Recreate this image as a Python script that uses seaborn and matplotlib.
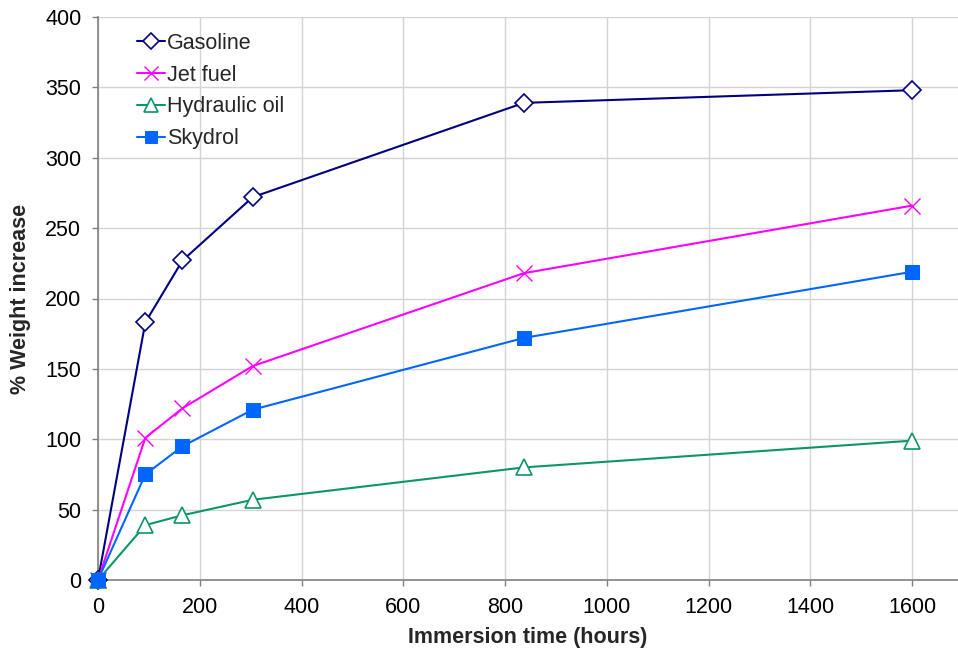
import numpy as np
import pandas as pd
import matplotlib
matplotlib.use('Agg')
import matplotlib.pyplot as plt
import seaborn as sns

# 데이터
hours = [0, 93, 166, 304, 837, 1600]
gasoline = [0, 183, 227, 272, 339, 348]
jet_fuel = [0, 101, 122, 152, 218, 266]
hydraulic_oil = [0, 39, 46, 57, 80, 99]
skydrol = [0, 75, 95, 121, 172, 219]

series = ['Gasoline', 'Jet fuel', 'Hydraulic oil', 'Skydrol']
values = [gasoline, jet_fuel, hydraulic_oil, skydrol]

df = pd.DataFrame({
    'hours': hours * len(series),
    'weight': np.concatenate(values),
    'fluid': np.repeat(series, len(hours)),
})

sns.set_style('white')
plt.rcParams['font.family'] = ['Liberation Sans', 'DejaVu Sans']

fig = plt.figure(figsize=(9.58, 6.52), dpi=100)
ax = fig.add_axes([98 / 958, 72 / 652, 1 - 98 / 958, (580 - 17) / 652])

styles = {
    'Gasoline': dict(color='#000080', marker='D', markersize=9, mfc='white', mec='#000080', mew=1.2),
    'Jet fuel': dict(color='#FF00FF', marker='x', markersize=12, mec='#FF00FF', mew=1.0),
    'Hydraulic oil': dict(color='#0B9668', marker='^', markersize=12, mfc='white', mec='#0B9668', mew=1.2),
    'Skydrol': dict(color='#0066FF', marker='s', markersize=10, mfc='#0066FF', mec='#0066FF'),
}

for name in series:
    sub = df[df['fluid'] == name]
    sns.lineplot(data=sub, x='hours', y='weight', ax=ax, label=name,
                 linewidth=1.5, clip_on=False, zorder=3, **styles[name])

ax.set_xlim(0, 1690)
ax.set_ylim(0, 400)
ax.set_xticks(np.arange(0, 1601, 200))
ax.set_yticks(np.arange(0, 401, 50))
ax.grid(True, color='#d4d4d4', linewidth=1.0)
ax.set_axisbelow(True)

for side in ['top', 'right']:
    ax.spines[side].set_visible(False)
for side in ['left', 'bottom']:
    ax.spines[side].set_color('#808080')
    ax.spines[side].set_linewidth(1.2)

ax.tick_params(axis='both', labelsize=15.5, labelcolor='black', direction='out', length=4,
               color='#808080', width=1.0, bottom=True, left=True, pad=8)
ax.set_xlabel('Immersion time (hours)', fontsize=15.5, fontweight='bold', labelpad=7)
ax.set_ylabel('% Weight increase', fontsize=15.5, fontweight='bold', labelpad=10)

leg = ax.legend(loc='upper left', bbox_to_anchor=(0.035, 0.987), frameon=False,
                fontsize=15.5, handlelength=1.3, handletextpad=0.1, labelspacing=0.5,
                borderaxespad=0)
for h in leg.legend_handles:
    h.set_markersize(h.get_markersize() * 0.85)

fig.savefig('out.png', dpi=100)
